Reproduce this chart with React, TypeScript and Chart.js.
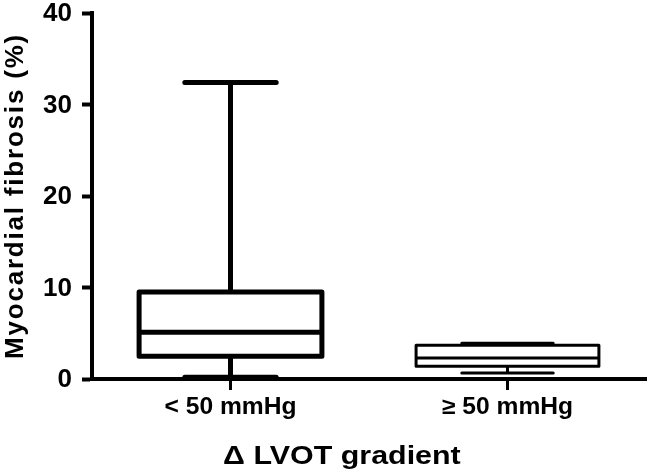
import React, { useEffect, useRef } from "react";
import { Chart, registerables } from "chart.js";

Chart.register(...registerables);

const categories = ["< 50 mmHg", "≥ 50 mmHg"];
const minValues = [0.2, 0.65];
const q1Values = [2.5, 1.4];
const medianValues = [5.1, 2.3];
const q3Values = [9.5, 3.7];
const maxValues = [32.4, 3.9];
const yTicks = [0, 10, 20, 30, 40];
const lineWidths = [5, 3];
const yTitle = "Myocardial fibrosis (%)";
const xTitle = "Δ LVOT gradient";

const FONT = "'Liberation Sans', Arial, Helvetica, sans-serif";

function stretchedText(
  ctx: CanvasRenderingContext2D,
  text: string,
  x: number,
  y: number,
  sx: number,
  align: CanvasTextAlign
) {
  ctx.save();
  ctx.translate(x, y);
  ctx.scale(sx, 1);
  ctx.textAlign = align;
  ctx.fillText(text, 0, 0);
  ctx.restore();
}

const boxPlugin = {
  id: "boxWhiskers",
  afterDatasetsDraw(chart: any) {
    const ctx = chart.ctx;
    const meta = chart.getDatasetMeta(0);
    const y = chart.scales.y;
    ctx.save();
    ctx.strokeStyle = "#000";
    meta.data.forEach((bar: any, i: number) => {
      const lw = lineWidths[i];
      const half = bar.width / 2;
      const cx = bar.x;
      const yMin = y.getPixelForValue(minValues[i]);
      const yQ1 = y.getPixelForValue(q1Values[i]);
      const yMed = y.getPixelForValue(medianValues[i]);
      const yQ3 = y.getPixelForValue(q3Values[i]);
      const yMax = y.getPixelForValue(maxValues[i]);
      ctx.lineWidth = lw;
      ctx.lineCap = "butt";
      ctx.beginPath();
      ctx.moveTo(cx, yQ3);
      ctx.lineTo(cx, yMax);
      ctx.moveTo(cx, yQ1);
      ctx.lineTo(cx, yMin);
      ctx.stroke();
      ctx.lineJoin = "round";
      ctx.strokeRect(cx - half, yQ3, 2 * half, yQ1 - yQ3);
      ctx.beginPath();
      ctx.moveTo(cx - half, yMed);
      ctx.lineTo(cx + half, yMed);
      ctx.stroke();
      ctx.lineCap = "round";
      const capHalf = half * 0.5;
      ctx.beginPath();
      ctx.moveTo(cx - capHalf, yMax);
      ctx.lineTo(cx + capHalf, yMax);
      ctx.moveTo(cx - capHalf, yMin);
      ctx.lineTo(cx + capHalf, yMin);
      ctx.stroke();
    });
    ctx.restore();
  },
  afterDraw(chart: any) {
    const ctx = chart.ctx as CanvasRenderingContext2D;
    const area = chart.chartArea;
    const xs = chart.scales.x;
    const ys = chart.scales.y;
    ctx.save();
    ctx.fillStyle = "#000";
    // y tick labels
    ctx.font = `bold 26px ${FONT}`;
    ctx.textBaseline = "middle";
    yTicks.forEach((v) => {
      stretchedText(ctx, String(v), area.left - 20, ys.getPixelForValue(v) + 1, 1.0, "right");
    });
    // x tick labels
    ctx.font = `bold 23px ${FONT}`;
    ctx.textBaseline = "alphabetic";
    categories.forEach((c, i) => {
      stretchedText(ctx, c, xs.getPixelForValue(i), area.bottom + 35, 1.07, "center");
    });
    // x axis title
    ctx.font = `bold 26px ${FONT}`;
    stretchedText(ctx, xTitle, chart.width * 0.526, area.bottom + 85, 1.17, "center");
    // y axis title
    ctx.letterSpacing = "1.8px";
    ctx.font = `bold 26px ${FONT}`;
    ctx.translate(23, (area.top + area.bottom) / 2);
    ctx.rotate(-Math.PI / 2);
    ctx.textAlign = "center";
    ctx.fillText(yTitle, 0, 0);
    ctx.restore();
    ctx.letterSpacing = "0px";
  },
};

export default function App() {
  const ref = useRef<HTMLCanvasElement | null>(null);

  useEffect(() => {
    if (!ref.current) return;
    const chart = new Chart(ref.current, {
      type: "bar",
      data: {
        labels: categories,
        datasets: [
          {
            data: q1Values.map((q, i) => [q, q3Values[i]]) as any,
            backgroundColor: "#ffffff",
            borderWidth: 0,
            barPercentage: 0.66,
            categoryPercentage: 1,
          },
        ],
      },
      options: {
        responsive: false,
        animation: false,
        layout: { padding: { top: 13, right: 4, bottom: 0, left: 0 } },
        plugins: {
          legend: { display: false },
          tooltip: { enabled: false },
        },
        scales: {
          x: {
            offset: true,
            grid: {
              offset: false,
              drawOnChartArea: false,
              drawTicks: true,
              tickLength: 11,
              tickWidth: 3,
              color: "#000",
            },
            border: { display: true, color: "#000", width: 4 },
            ticks: { display: false },
            afterFit: (s: any) => {
              s.height = 94;
              s.paddingLeft = 0;
              s.paddingRight = 0;
            },
          },
          y: {
            min: 0,
            max: 40,
            afterBuildTicks: (s: any) => {
              s.ticks = yTicks.map((v) => ({ value: v }));
            },
            grid: {
              drawOnChartArea: false,
              drawTicks: true,
              tickLength: 10,
              tickWidth: 4,
              color: "#000",
            },
            border: { display: true, color: "#000", width: 4 },
            ticks: { display: false },
            title: { display: false },
            afterFit: (s: any) => {
              s.width = 92;
              s.paddingTop = 0;
              s.paddingBottom = 0;
            },
          },
        },
      } as any,
      plugins: [boxPlugin],
    });
    return () => chart.destroy();
  }, []);

  return (
    <div
      style={{
        position: "fixed",
        left: 0,
        top: 0,
        width: 650,
        height: 473,
        background: "#fff",
      }}
    >
      <canvas
        ref={ref}
        width={650}
        height={473}
        style={{ display: "block", width: 650, height: 473 }}
      />
    </div>
  );
}
